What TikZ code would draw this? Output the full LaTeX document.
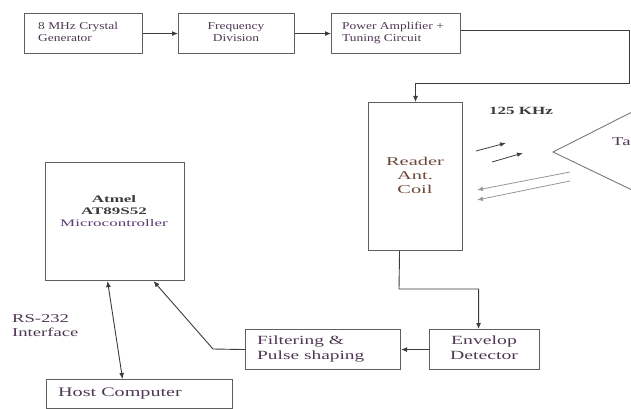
\documentclass[tikz,border=0pt]{standalone}
\usepackage{fontspec}
\setmainfont{Liberation Serif}
\usepackage{graphicx}
\usetikzlibrary{arrows.meta}
\definecolor{txt}{RGB}{78,55,82}
\definecolor{txtbrown}{RGB}{110,72,55}
\definecolor{txtpurple}{RGB}{88,60,112}
\definecolor{boxline}{RGB}{95,95,95}
\definecolor{conline}{RGB}{60,60,60}
\definecolor{lightline}{RGB}{150,150,150}
\newcommand{\sx}[3]{\scalebox{#1}[1]{\begin{tabular}{@{}#2@{}}#3\end{tabular}}}
\tikzset{
  box/.style={draw=boxline, line width=1.1pt, inner sep=0pt, anchor=north west},
  txtnode/.style={inner sep=0pt},
  arr/.style={draw=conline, line width=0.9pt, -{Latex[length=6pt,width=5pt]}},
  darr/.style={draw=conline, line width=0.9pt, {Latex[length=6pt,width=5pt]}-{Latex[length=6pt,width=5pt]}},
  rfdark/.style={draw=conline, line width=0.8pt, -{Latex[length=6pt,width=4.5pt]}},
  rflight/.style={draw=lightline, line width=0.8pt, -{Latex[length=6pt,width=4.5pt]}},
  topfont/.style={font=\fontsize{10.5}{11.5}\selectfont, text=txt},
  lowfont/.style={font=\fontsize{12.5}{14.5}\selectfont, text=txt},
}
\begin{document}
\begin{tikzpicture}[x=1pt,y=-1pt]
\useasboundingbox (0,0) rectangle (631,409);
% top row
\node[box, minimum width=118pt, minimum height=40pt] (b1) at (24,13) {};
\node[txtnode, topfont, anchor=west] (b1t) at (38,33) {\sx{1.28}{l}{8 MHz Crystal\\Generator}};
\node[box, minimum width=116pt, minimum height=40pt] (b2) at (178,13) {};
\node[txtnode, topfont] (b2t) at (236,33) {\sx{1.28}{c}{Frequency\\Division}};
\node[box, minimum width=129pt, minimum height=40pt] (b3) at (331,13) {};
\node[txtnode, topfont, anchor=west] (b3t) at (342,33) {\sx{1.28}{l}{Power Amplifier +\\Tuning Circuit}};
% reader
\node[box, minimum width=94pt, minimum height=148pt] (reader) at (368,102) {};
\node[txtnode, font=\fontsize{12}{14}\selectfont, text=txtbrown] (readertxt) at (415,177) {\sx{1.7}{c}{Reader\\Ant.\\Coil}};
% label 125 KHz
\node[txtnode, font=\fontsize{11}{13}\selectfont\bfseries, text=conline] (freq) at (521,112) {\sx{1.55}{c}{125 KHz}};
% tag triangle
\coordinate (tapex) at (553,152);
\coordinate (ttop) at (632,112);
\coordinate (tbot) at (632,190);
\draw[draw=lightline!80!black, line width=0.9pt] (ttop) -- (tapex) -- (tbot);
\node[txtnode, font=\fontsize{12}{14}\selectfont, text=txt, anchor=west] (tag) at (612,143) {\sx{1.55}{l}{Ta}};
% RF arrows
\coordinate (r1a) at (476,151); \coordinate (r1b) at (506,143);
\coordinate (r2a) at (492,162); \coordinate (r2b) at (523,153);
\coordinate (r3a) at (570,172); \coordinate (r3b) at (477,190);
\coordinate (r4a) at (570,181); \coordinate (r4b) at (477,200);
\draw[rfdark] (r1a) -- (r1b);
\draw[rfdark] (r2a) -- (r2b);
\draw[rflight] (r3a) -- (r3b);
\draw[rflight] (r4a) -- (r4b);
% microcontroller
\node[box, minimum width=139pt, minimum height=118pt] (micro) at (45,162) {};
\node[txtnode, font=\fontsize{10}{12}\selectfont, text=conline] (microtxt) at (114,212) {\sx{1.7}{c}{\bfseries Atmel\\\bfseries AT89S52\\\textcolor{txtpurple}{Microcontroller}}};
% bottom row
\node[box, minimum width=110pt, minimum height=40pt] (env) at (429,329) {};
\node[txtnode, lowfont] (envt) at (484,349) {\sx{1.58}{c}{Envelop\\Detector}};
\node[box, minimum width=155pt, minimum height=40pt] (filt) at (245,329) {};
\node[txtnode, lowfont, anchor=west] (filtt) at (257,349) {\sx{1.55}{l}{Filtering \&\\Pulse shaping}};
\node[box, minimum width=186pt, minimum height=28.5pt] (host) at (46,379) {};
\node[txtnode, font=\fontsize{13}{15}\selectfont, text=txt, anchor=west] (hostt) at (58,393) {\sx{1.55}{l}{Host Computer}};
\node[txtnode, font=\fontsize{12}{14}\selectfont, text=txt, anchor=west] (rs) at (12,327) {\sx{1.55}{l}{RS-232\\Interface}};
% connectors
\draw[arr] (b1.east) -- (b2.west);
\draw[arr] (b2.east) -- (b3.west);
\coordinate (k1) at (629,83);
\draw[arr] ([yshift=3pt]b3.east) -| (k1) -| (reader.north);
\coordinate (k2) at (399,289);
\draw[arr] ([xshift=-16pt]reader.south) -- (k2) -| ([xshift=-6pt]env.north);
\draw[arr] (env.west) -- (filt.east);
\coordinate (k3) at (213,349);
\draw[arr] (filt.west) -- (k3) -- ([xshift=38.5pt]micro.south);
\draw[darr] ([xshift=-7.5pt]micro.south) -- ([xshift=-17pt]host.north);
\end{tikzpicture}
\end{document}
